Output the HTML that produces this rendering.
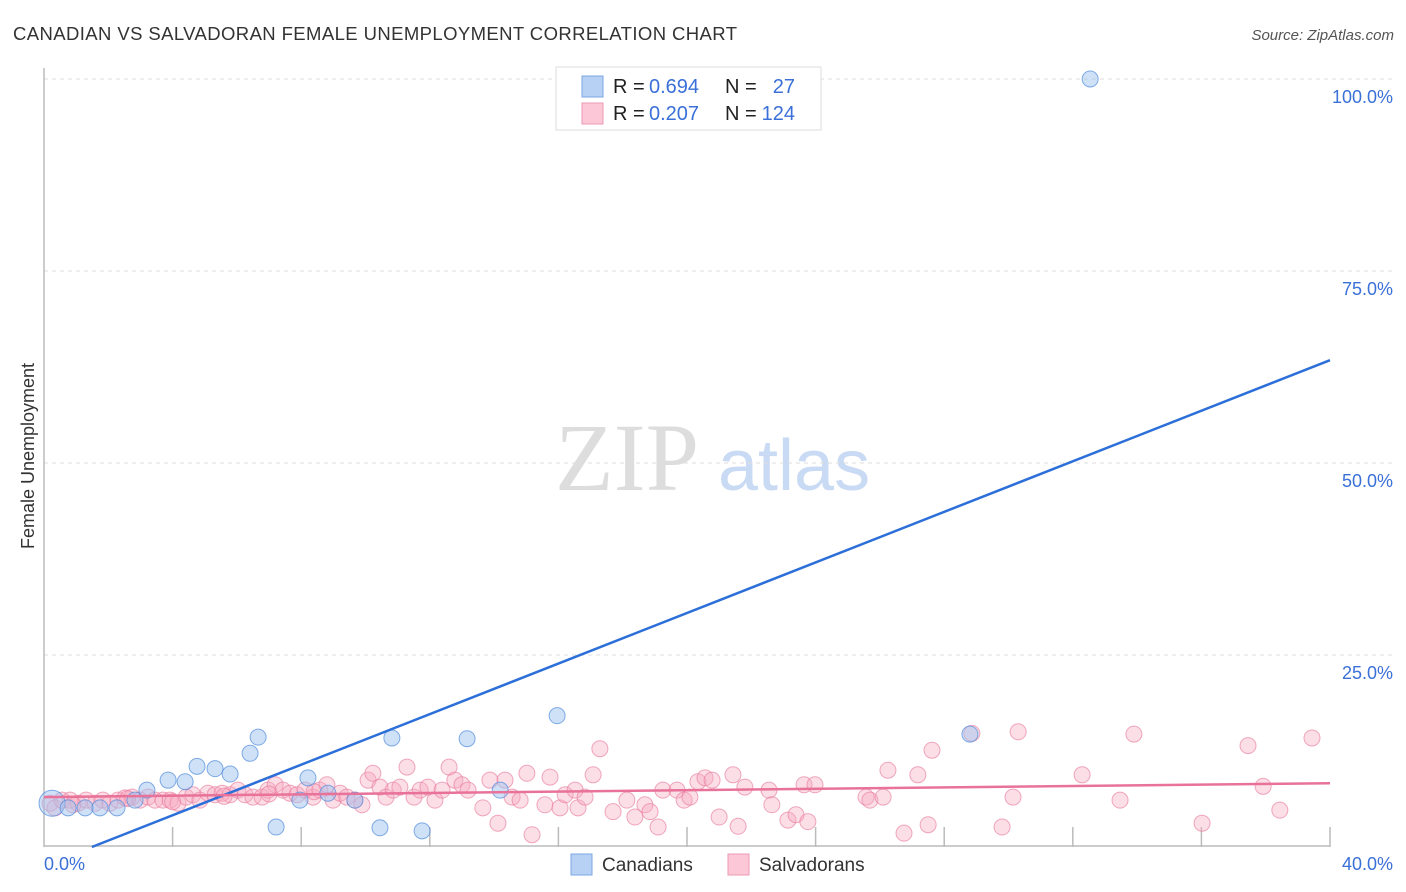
<!DOCTYPE html>
<html><head><meta charset="utf-8"><style>
body{margin:0;background:#fff;font-family:"Liberation Sans",sans-serif;}
#wrap{position:relative;width:1406px;height:892px;overflow:hidden;}
</style></head><body>
<div id="wrap">
<svg id="chart" width="1406" height="892" xmlns="http://www.w3.org/2000/svg"></svg>
</div>
<script>
const canX=[0.25,0.75,1.28,1.74,2.27,2.83,3.20,3.86,4.39,4.76,5.32,5.79,6.41,6.66,7.22,7.96,8.21,8.83,9.67,10.45,10.82,11.76,13.16,14.19,15.96,28.80,32.54];
const canY=[5.7,5.1,5.1,5.1,5.1,6.1,7.4,8.7,8.5,10.5,10.2,9.5,12.2,14.3,2.6,6.1,9.0,7.0,6.1,2.5,14.2,2.1,14.1,7.4,17.1,14.7,100];
const salX=[0.19,0.34,0.56,0.81,1.06,1.31,1.59,1.83,2.05,2.30,2.52,2.74,2.99,3.23,3.45,3.70,3.92,4.17,4.42,4.63,4.85,5.10,5.32,5.54,5.79,6.03,6.25,6.50,6.78,6.97,7.19,7.43,7.65,7.87,8.12,8.37,8.58,8.80,8.99,9.21,9.42,9.67,9.89,10.08,10.23,10.45,10.64,10.86,11.07,11.29,11.51,11.70,11.94,12.16,12.38,12.60,12.78,13.00,13.19,13.65,13.87,14.12,14.34,14.56,14.81,15.02,15.18,15.58,15.74,16.05,16.21,16.52,16.61,16.83,17.08,17.29,17.70,18.13,18.38,18.69,18.85,19.10,19.25,19.69,19.91,20.09,20.34,20.56,20.78,21.0,21.43,21.59,21.80,22.55,22.64,23.14,23.39,23.64,23.76,23.98,25.57,25.69,26.10,26.25,26.75,27.18,27.50,27.62,28.86,30.14,29.80,30.30,32.29,33.47,33.90,36.02,37.45,37.92,38.44,39.44,0.9,2.6,4.0,5.6,7.0,8.4];
const salY=[5.7,5.1,6.1,6.1,5.7,6.1,5.7,6.1,5.7,6.1,6.4,6.5,6.1,6.5,6.1,6.1,6.1,5.7,6.5,6.8,6.1,7.0,6.8,7.0,6.8,7.4,6.8,6.5,6.5,7.4,8.1,7.4,7.0,6.8,7.4,6.5,7.4,8.1,6.1,7.0,6.5,6.1,5.5,8.7,9.6,7.8,6.5,7.4,7.8,10.4,6.5,7.4,7.8,6.1,7.4,10.4,8.7,8.1,7.4,5.1,8.7,3.1,8.7,6.5,6.1,9.6,1.6,5.5,9.1,5.1,6.8,7.4,5.1,6.5,9.4,12.8,4.6,6.1,3.9,5.5,4.6,2.6,7.4,7.4,6.1,6.5,8.5,9.0,8.7,3.9,9.4,2.7,7.8,7.4,5.5,3.5,4.2,8.1,3.3,8.1,6.5,6.1,6.5,10.0,1.8,9.4,2.9,12.6,14.8,6.5,2.6,15.0,9.4,6.1,14.7,3.1,13.2,7.9,4.8,14.2,5.5,6.3,5.9,6.6,6.9,7.2];
const canSlope=1.646, canIntercept=-2.45;
const salSlope=0.045, salIntercept=6.5;
const yTicks=[25,50,75,100];
const xTickVals=[4,8,12,16,20,24,28,32,36,40];

const NS="http://www.w3.org/2000/svg";
const svg=document.getElementById('chart');
const X0=44,X1=1330,YB=847,YT=79;
const sx=v=>X0+(v/40)*(X1-X0);
const sy=v=>YB-(v/100)*(YB-YT);
function mk(tag,attrs,parent){const e=document.createElementNS(NS,tag);for(const k in attrs)e.setAttribute(k,attrs[k]);(parent||svg).appendChild(e);return e;}

let t=mk('text',{x:13,y:40,'font-size':18.5,fill:'#333','letter-spacing':'0.4'});t.textContent='CANADIAN VS SALVADORAN FEMALE UNEMPLOYMENT CORRELATION CHART';


t=mk('text',{x:1394,y:40,'font-size':15,fill:'#555','font-style':'italic','text-anchor':'end'});t.textContent='Source: ZipAtlas.com';



t=mk('text',{x:555,y:490,'font-size':96,fill:'#ddd','font-family':'"Liberation Serif",serif'});t.textContent='ZIP';


t=mk('text',{x:718,y:490,'font-size':72,fill:'#c9daf4'});t.textContent='atlas';



yTicks.forEach(v=>{
 const g=mk('line',{x1:X0,x2:1392,y1:sy(v),y2:sy(v),stroke:'#ddd','stroke-dasharray':'4,4'});
 
 
 const l=mk('text',{x:1393,y:sy(v)+24,'font-size':18,fill:'#3a70d8','text-anchor':'end'});l.textContent=v.toFixed(1)+'%';
 
 
});
let a=mk('line',{x1:X0,x2:X0,y1:68,y2:YB,stroke:'#bbb','stroke-width':1.5});


a=mk('line',{x1:X0,x2:X1,y1:YB-1,y2:YB-1,stroke:'#bbb','stroke-width':1.5});


xTickVals.forEach(v=>{
 const k=mk('line',{x1:sx(v),x2:sx(v),y1:827,y2:YB,stroke:'#bbb','stroke-width':1.5});
 
 
});
t=mk('text',{x:44,y:870,'font-size':18,fill:'#3a70d8'});t.textContent='0.0%';


t=mk('text',{x:1393,y:870,'font-size':18,fill:'#3a70d8','text-anchor':'end'});t.textContent='40.0%';


t=mk('text',{x:34,y:456,'font-size':18,fill:'#333','text-anchor':'middle',transform:'rotate(-90 34 456)'});t.textContent='Female Unemployment';



salX.forEach((x,i)=>{
 const c=mk('circle',{cx:sx(x),cy:sy(salY[i]),r:8,fill:'rgba(246,168,193,0.38)',stroke:'rgba(232,125,158,0.65)','stroke-width':1});
 
 
});
canX.forEach((x,i)=>{
 const c=mk('circle',{cx:sx(x),cy:sy(canY[i]),r:i===0?13:8,fill:'rgba(160,195,240,0.5)',stroke:'rgba(80,140,220,0.7)','stroke-width':1});
 
 
});
const bx0=-canIntercept/canSlope;
let ln=mk('line',{x1:sx(bx0),y1:sy(0),x2:sx(40),y2:sy(canIntercept+canSlope*40),stroke:'#2c6fd8','stroke-width':2.5});


ln=mk('line',{x1:sx(0),y1:sy(salIntercept),x2:sx(40),y2:sy(salIntercept+salSlope*40),stroke:'#e8729a','stroke-width':2.5});



let r=mk('rect',{x:556,y:67,width:265,height:63,fill:'#fff',stroke:'#ddd'});


const rows=[['#b7d1f5','#7ba7e3','0.694','27'],['#fcc8d8','#ec9ab4','0.207','124']];
rows.forEach((rw,i)=>{
 const y=86+i*27;
 const s=mk('rect',{x:582,y:y-10,width:21,height:21,fill:rw[0],stroke:rw[1]});
 
 
 let tx=mk('text',{x:613,y:y+7,'font-size':20,fill:'#222'});tx.textContent='R =';
 
 
 tx=mk('text',{x:649,y:y+7,'font-size':20,fill:'#3a70d8'});tx.textContent=rw[2];
 
 
 tx=mk('text',{x:725,y:y+7,'font-size':20,fill:'#222'});tx.textContent='N =';
 
 
 tx=mk('text',{x:795,y:y+7,'font-size':20,fill:'#3a70d8','text-anchor':'end'});tx.textContent=rw[3];
 
 
});
[['#b7d1f5','#7ba7e3','Canadians',571],['#fcc8d8','#ec9ab4','Salvadorans',728]].forEach(l=>{
 const s=mk('rect',{x:l[3],y:854,width:21,height:21,fill:l[0],stroke:l[1]});
 
 
 const tx=mk('text',{x:l[3]+31,y:871,'font-size':19,fill:'#333'});tx.textContent=l[2];
 
 
});
</script>
</body></html>
